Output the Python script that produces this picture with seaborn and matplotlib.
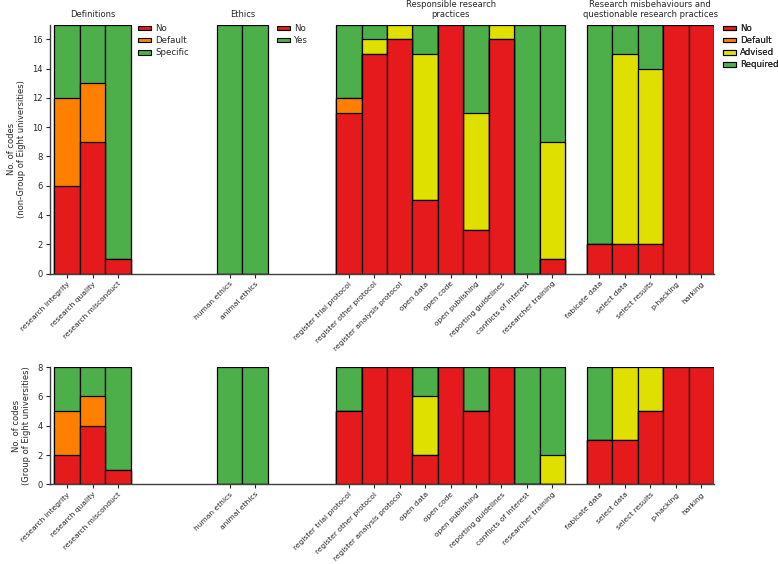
import numpy as np
import pandas as pd
import matplotlib
matplotlib.use("Agg")
import matplotlib.pyplot as plt
import seaborn as sns
from matplotlib.patches import Patch

# ---------------- data ----------------
group_titles = ["Definitions", "Ethics", "Responsible research\npractices",
                "Research misbehaviours and\nquestionable research practices"]

def_items = ["research integrity", "research quality", "research misconduct"]
def_levels = ["No", "Default", "Specific"]
eth_items = ["human ethics", "animal ethics"]
eth_levels = ["No", "Yes"]
rrp_items = ["register trial protocol", "register other protocol", "register analysis protocol",
             "open data", "open code", "open publishing", "reporting guidelines",
             "conflicts of interest", "researcher training"]
qrp_items = ["fabicate data", "select data", "select results", "p-hacking", "harking"]
prac_levels = ["No", "Default", "Advised", "Required"]

# counts per item, in level order -- non-Group of Eight universities
def_non = [[6, 6, 5], [9, 4, 4], [1, 0, 16]]
eth_non = [[0, 17], [0, 17]]
rrp_non = [[11, 1, 0, 5], [15, 0, 1, 1], [16, 0, 1, 0], [5, 0, 10, 2], [17, 0, 0, 0],
           [3, 0, 8, 6], [16, 0, 1, 0], [0, 0, 0, 17], [1, 0, 8, 8]]
qrp_non = [[2, 0, 0, 15], [2, 0, 13, 2], [2, 0, 12, 3], [17, 0, 0, 0], [17, 0, 0, 0]]

# Group of Eight universities
def_go8 = [[2, 3, 3], [4, 2, 2], [1, 0, 7]]
eth_go8 = [[0, 8], [0, 8]]
rrp_go8 = [[5, 0, 0, 3], [8, 0, 0, 0], [8, 0, 0, 0], [2, 0, 4, 2], [8, 0, 0, 0],
           [5, 0, 0, 3], [8, 0, 0, 0], [0, 0, 0, 8], [0, 0, 2, 6]]
qrp_go8 = [[3, 0, 0, 5], [3, 0, 5, 0], [5, 0, 3, 0], [8, 0, 0, 0], [8, 0, 0, 0]]

ylabels = ["No. of codes\n(non-Group of Eight universities)",
           "No. of codes\n(Group of Eight universities)"]

colors = {"No": "#E41A1C", "Default": "#FF7F00", "Advised": "#DFDF00",
          "Specific": "#4DAF4A", "Yes": "#4DAF4A", "Required": "#4DAF4A"}

# ---------------- layout ----------------
group_items = [def_items, eth_items, rrp_items, qrp_items]
group_levels = [def_levels, eth_levels, prac_levels, prac_levels]
gaps = [3.39, 2.68, 0.85]

starts = [0.0]
for items, g in zip(group_items[:-1], gaps):
    starts.append(starts[-1] + len(items) + g)
positions = []
for s, items in zip(starts, group_items):
    positions.append([s + i for i in range(len(items))])


def build(tables):
    rows = []
    for items, levels, pos, tab in zip(group_items, group_levels, positions, tables):
        for it, p, counts in zip(items, pos, tab):
            cum = np.cumsum(counts)
            for r, (lev, c) in enumerate(zip(levels, cum)):
                rows.append(dict(item=it, pos=p, level=lev, rank=r, cum=float(c)))
    return pd.DataFrame(rows)


sns.set_style("ticks")
plt.rcParams.update({"font.family": ["DejaVu Sans"], "font.size": 6,
                     "xtick.major.size": 3, "ytick.major.size": 3,
                     "xtick.major.pad": 2.0, "ytick.major.pad": 2.5,
                     "xtick.major.width": 0.8, "ytick.major.width": 0.8,
                     "axes.edgecolor": ".25", "axes.linewidth": 1.0})

fig = plt.figure(figsize=(7.78, 5.64), dpi=100)
ax_top = fig.add_axes([0.0643, 0.515, 0.8534, 0.441])
ax_bot = fig.add_axes([0.0643, 0.1413, 0.8534, 0.2077])

all_pos = [p for pos in positions for p in pos]
all_items = [it for items in group_items for it in items]

for ax, tables, ymax, yl in [(ax_top, [def_non, eth_non, rrp_non, qrp_non], 17, ylabels[0]),
                             (ax_bot, [def_go8, eth_go8, rrp_go8, qrp_go8], 8, ylabels[1])]:
    df = build(tables)
    for r in sorted(df["rank"].unique(), reverse=True):
        sub = df[df["rank"] == r]
        sns.barplot(data=sub, x="pos", y="cum", hue="level", palette=colors,
                    native_scale=True, dodge=False, width=1.0, edgecolor="black",
                    linewidth=0.9, saturation=1, legend=False, errorbar=None, ax=ax)
    ax.set_xlim(-0.67, all_pos[-1] + 0.5)
    ax.set_ylim(0, ymax)
    ax.set_yticks(range(0, ymax + 1, 2))
    ax.set_xticks(all_pos)
    ax.set_xticklabels(all_items, rotation=45, ha="right", rotation_mode="anchor", fontsize=5.4)
    ax.tick_params(axis="y", labelsize=6)
    ax.set_xlabel("")
    ax.set_ylabel(yl, fontsize=6)
    sns.despine(ax=ax)

# titles
for title, pos in zip(group_titles, positions):
    c = (pos[0] + pos[-1]) / 2
    ax_top.annotate(title, xy=(c, 1), xycoords=("data", "axes fraction"),
                    xytext=(0, 4.0), textcoords="offset points",
                    ha="center", va="bottom", fontsize=6, linespacing=1.2)

# legends
leg_x = [positions[0][-1] + 0.8, positions[1][-1] + 0.87, None, positions[3][-1] + 0.87]
for lx, levels in zip(leg_x, group_levels):
    if lx is None:
        continue
    handles = [Patch(facecolor=colors[l], edgecolor="black", linewidth=0.8, label=l) for l in levels]
    leg = ax_top.legend(handles=handles, loc="upper left", bbox_to_anchor=(lx, 17.05),
                        bbox_transform=ax_top.transData, frameon=False, fontsize=6.2,
                        borderpad=0, borderaxespad=0, handlelength=1.5, handleheight=0.5,
                        handletextpad=0.45, labelspacing=0.35)
    ax_top.add_artist(leg)

fig.savefig("out.png", dpi=100)
